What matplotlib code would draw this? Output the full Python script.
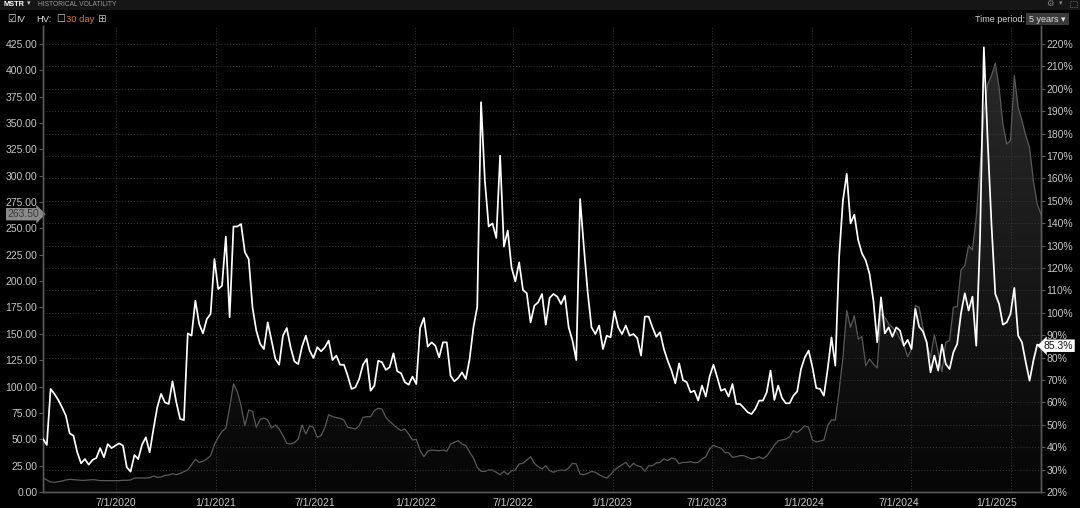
import numpy as np
import pandas as pd
import matplotlib
matplotlib.use("Agg")
import matplotlib.pyplot as plt
import matplotlib.dates as mdates
from matplotlib.patches import Polygon, Rectangle
from matplotlib.colors import LinearSegmentedColormap
from matplotlib.transforms import ScaledTranslation, blended_transform_factory

plt.rcParams['font.family'] = ['Liberation Sans', 'DejaVu Sans']

# weekly points, last one 2/25/2025
dates = pd.date_range(end="2025-02-25", periods=263, freq="7D")

# implied volatility (%), right axis
iv = [
    43.7, 41.0, 66.0, 63.8, 61.1, 57.8, 54.1, 46.2, 45.1, 37.7,
    32.8, 34.7, 32.2, 34.3, 35.2, 39.6, 35.5, 41.4, 39.6, 40.7,
    41.7, 40.7, 31.0, 29.1, 36.5, 34.7, 41.1, 44.4, 37.7, 48.1,
    57.8, 63.8, 60.0, 59.3, 69.4, 60.0, 52.6, 52.1, 90.8, 89.8,
    105.4, 95.0, 90.8, 97.2, 99.5, 124.0, 110.6, 112.1, 134.0, 98.0,
    138.5, 138.5, 139.6, 127.0,
    124.0, 102.4, 92.0, 86.1, 83.8, 95.7, 87.6, 79.4, 76.8, 89.8,
    93.2, 84.6, 78.3, 77.1, 84.9, 89.8, 83.1, 79.8, 84.6, 82.8,
    84.6, 87.6, 78.9, 80.9, 76.8, 76.8, 71.9, 66.0, 66.7, 70.4,
    76.8, 79.4, 65.2, 67.5, 78.6, 77.9, 74.5, 75.7, 81.9, 73.9,
    73.0, 69.0, 67.9, 71.5, 68.2, 93.2, 97.7, 84.9, 86.8, 85.3,
    80.1, 86.8,
    86.8, 71.9, 69.4, 70.9, 73.4, 70.4, 79.4, 93.5, 102.7, 194.0,
    159.0, 138.5, 139.9, 133.4, 170.1, 129.5, 136.7, 120.3, 114.0, 122.5,
    110.2, 108.7, 95.7, 103.2, 104.7, 108.4, 94.7, 106.6, 108.4, 107.2,
    103.9, 107.6, 93.5, 87.6, 78.9, 150.8, 129.2, 109.1, 93.5, 90.5,
    94.3, 83.8, 89.8, 89.0, 100.7, 93.5, 90.5, 94.3, 89.8, 90.5,
    88.7, 80.9,
    98.3, 98.3, 93.5, 89.3, 91.3, 83.8, 78.6, 74.2, 68.5, 77.4,
    70.0, 69.0, 64.5, 65.2, 60.8, 67.5, 62.6, 71.5, 76.8, 71.2,
    65.2, 66.0, 62.6, 68.2, 59.3, 59.3, 57.5, 55.6, 54.8, 57.1,
    60.8, 60.8, 64.5, 74.2, 61.1, 67.5, 62.0, 59.6, 59.6, 63.0,
    64.9, 74.9, 80.1, 83.1, 75.7, 66.4, 66.0, 63.0, 74.9, 89.0,
    76.4, 124.8, 150.1,
    162.0, 139.9, 143.8, 132.5, 126.5, 123.3, 117.3, 105.4, 86.8, 106.9,
    90.8, 93.5, 89.3, 93.5, 92.0, 85.3, 87.9, 83.8, 101.7, 93.8,
    91.7, 86.8, 73.4, 80.9, 74.2, 85.8, 77.1, 74.9, 82.4, 86.1,
    99.8, 108.7, 101.0, 107.2, 85.3, 133.7, 218.5, 176.8, 139.6, 108.4,
    103.9, 94.7, 95.7, 99.5, 111.1, 89.8, 86.8, 77.9, 69.7, 78.6,
    85.8, 85.3,
]

# stock price, left axis
price = [
    13.3, 11.4, 9.5, 9.2, 9.8, 10.4, 11.4, 12.0, 11.7, 11.4,
    11.1, 11.1, 11.4, 11.7, 11.4, 10.8, 10.8, 10.8, 10.8, 10.8,
    10.8, 11.1, 11.1, 11.4, 13.3, 13.3, 13.3, 13.3, 13.6, 15.2,
    13.9, 14.2, 15.8, 16.1, 17.4, 16.4, 17.7, 19.3, 20.9, 25.9,
    31.0, 28.1, 29.1, 31.3, 34.5, 44.9, 51.9, 57.5, 60.4, 80.3,
    102.4, 95.5, 81.9, 62.9,
    77.8, 76.5, 61.3, 68.9, 70.2, 68.3, 60.7, 63.6, 59.8, 53.4,
    46.2, 45.5, 46.8, 50.3, 63.6, 55.0, 62.9, 61.3, 51.9, 53.4,
    61.3, 73.4, 71.5, 70.5, 69.9, 68.3, 61.3, 60.7, 59.8, 62.9,
    70.8, 71.5, 71.5, 77.2, 79.4, 78.7, 70.8, 67.0, 63.9, 60.7,
    58.2, 59.8, 55.0, 49.3, 50.0, 39.2, 33.5, 38.6, 39.8, 39.5,
    39.2, 39.8,
    38.6, 45.5, 47.1, 48.7, 45.5, 44.0, 37.9, 32.3, 23.4, 19.6,
    19.6, 20.9, 20.9, 18.7, 16.4, 19.6, 16.4, 20.2, 20.9, 26.6,
    27.2, 30.4, 33.5, 27.2, 24.0, 21.8, 25.0, 20.2, 18.7, 20.2,
    20.9, 20.2, 22.8, 27.2, 26.6, 17.1, 16.4, 17.7, 19.6, 18.7,
    16.4, 14.5, 13.3, 16.4, 20.9, 23.4, 25.9, 28.1, 23.4, 27.2,
    25.0, 24.0,
    19.6, 25.0, 25.0, 27.5, 28.1, 31.6, 29.7, 32.3, 31.3, 26.9,
    28.1, 28.1, 28.8, 27.8, 28.1, 31.3, 33.5, 40.8, 44.3, 42.7,
    41.7, 37.6, 37.3, 32.9, 33.5, 34.5, 34.5, 32.9, 31.3, 31.9,
    33.5, 31.6, 34.1, 39.2, 44.6, 48.7, 49.3, 50.3, 52.5, 58.2,
    56.3, 59.4, 62.9, 61.3, 49.3, 47.4, 48.4, 49.3, 62.9, 68.3,
    68.3, 96.1, 127.7,
    172.0, 156.2, 167.3, 145.1, 147.4, 119.8, 126.2, 121.4, 117.6, 168.9,
    165.7, 159.4, 156.2, 152.4, 145.1, 138.8, 128.4, 135.7, 176.8, 175.2,
    156.2, 141.0, 127.7, 149.2, 132.5, 114.1, 142.0, 143.6, 175.2, 175.8,
    210.6, 214.7, 233.7, 229.6, 260.5, 308.0, 358.6, 387.0, 394.9, 406.6,
    383.9, 349.1, 330.1, 333.3, 394.9, 364.9, 352.2, 338.0, 327.0, 295.3,
    273.2, 263.5,
]

last_price = 263.50
last_iv = 85.3

tick_dates = ["2020-07-01", "2021-01-01", "2021-07-01", "2022-01-01", "2022-07-01",
              "2023-01-01", "2023-07-01", "2024-01-01", "2024-07-01", "2025-01-01"]
tick_labels = ["7/1/2020", "1/1/2021", "7/1/2021", "1/1/2022", "7/1/2022",
               "1/1/2023", "7/1/2023", "1/1/2024", "7/1/2024", "1/1/2025"]
# the source chart draws the later date labels a bit left of their grid lines
label_shift = [0, 0, 0, 1, 0, -2, -5, -8, -12, -14]

price_ticks = np.arange(0, 426, 25)
iv_ticks = np.arange(20, 221, 10)

W, H = 1080, 508
fig = plt.figure(figsize=(W / 100, H / 100), dpi=100, facecolor="black")
ax = fig.add_axes([43 / W, 16 / H, 998 / W, 466 / H])
ax.set_facecolor("black")
ax2 = ax.twinx()
ax2.patch.set_visible(False)

PMAX = 442
ax.set_ylim(0, PMAX)
ax2.set_ylim(20, 20 + PMAX / 2.125)

# price area with a dark vertical gradient
xn = mdates.date2num(dates)
ax.plot(dates, price, color="#5a5a5a", lw=0.9, zorder=3)
verts = [(xn[0], 0)] + list(zip(xn, price)) + [(xn[-1], 0)]
poly = Polygon(verts, closed=True, facecolor="none", edgecolor="none")
ax.add_patch(poly)
cmap = LinearSegmentedColormap.from_list("shade", ["#060606", "#2c2c2c"])
grad = np.linspace(0, 1, 256).reshape(-1, 1)
im = ax.imshow(grad, extent=[xn[0], xn[-1], 0, PMAX], origin="lower",
               aspect="auto", cmap=cmap, zorder=1)
im.set_clip_path(poly)
ax.set_xlim(dates[0], dates[-1])
ax.set_ylim(0, PMAX)

# IV line
ax2.plot(dates, iv, color="white", lw=1.25, zorder=5)

# grids
ax.set_xticks(pd.to_datetime(tick_dates))
ax.set_xticklabels(tick_labels)
ax.grid(axis="x", color="#3a3a3a", ls=(0, (1, 2)), lw=0.7)
ax2.grid(axis="y", color="#3a3a3a", ls=(0, (1, 2)), lw=0.7)

ax.set_yticks(price_ticks)
ax.set_yticklabels([f"{v:.2f}" for v in price_ticks])
ax2.set_yticks(iv_ticks)
ax2.set_yticklabels([f"{v}%" for v in iv_ticks])

for a in (ax, ax2):
    a.tick_params(axis="y", colors="#c8c8c8", labelsize=7.5, length=3,
                  width=0.8, pad=1)
    a.tick_params(axis="y", color="#5a5a5a")
    for s in a.spines.values():
        s.set_color("#5a5a5a")
        s.set_linewidth(1.0)
    a.spines["top"].set_visible(False)
ax.tick_params(axis="x", colors="#c8c8c8", labelsize=7.5, length=0, pad=4)

for lab, sh in zip(ax.get_xticklabels(), label_shift):
    lab.set_transform(lab.get_transform() + ScaledTranslation(sh / 100, 0, fig.dpi_scale_trans))

# current value flags
tr_l = blended_transform_factory(ax.transAxes, ax.transData)
ax.text(-0.004, last_price, f"{last_price:.2f}", transform=tr_l, ha="right", va="center",
        fontsize=7.5, color="#3a3a3a", clip_on=False, zorder=10,
        bbox=dict(boxstyle="rarrow,pad=0.12", fc="#8a8a8a", ec="none"))
tr_r = blended_transform_factory(ax2.transAxes, ax2.transData)
ax2.text(1.003, last_iv, f"{last_iv}%", transform=tr_r, ha="left", va="center",
         fontsize=7.5, color="#111111", clip_on=False, zorder=10,
         bbox=dict(boxstyle="larrow,pad=0.12", fc="white", ec="none"))

# header
def ftext(x, y, s, **kw):
    fig.text(x / W, 1 - y / H, s, va="center", **kw)

fig.patches.append(Rectangle((0, 1 - 9.5 / H), 1, 9.5 / H, transform=fig.transFigure,
                             facecolor="#161616", edgecolor="none", zorder=0))
ftext(4, 4, "MSTR", fontsize=5.3, color="white", fontweight="bold")
ftext(27, 4, "▾", fontsize=5, color="#d0d0d0")
ftext(38, 4, "HISTORICAL VOLATILITY", fontsize=4.8, color="#9a9a9a")
ftext(1046, 4, "⚙", fontsize=6, color="#8a8a8a")
ftext(1059, 4, "▾", fontsize=5, color="#8a8a8a")
fig.patches.append(Rectangle((1070 / W, 1 - 7 / H), 7 / W, 6 / H, transform=fig.transFigure,
                             facecolor="none", edgecolor="#6a6a6a", lw=0.6, ls=(0, (1, 1))))

ftext(7, 19, "☑", fontsize=7, color="#d8d8d8")
ftext(16, 19, "IV", fontsize=6.8, color="#d8d8d8")
ftext(36, 19, "HV:", fontsize=6.8, color="#d8d8d8")
ftext(56, 19, "☐", fontsize=7, color="#d8d8d8")
ftext(66, 19, "30 day", fontsize=6.8, color="#e07c10")
ftext(97, 19, "⊞", fontsize=7.5, color="#b8b8b8")

ftext(1025, 19, "Time period:", fontsize=6.5, color="#d8d8d8", ha="right")
fig.patches.append(Rectangle((1026 / W, 1 - 25 / H), 43 / W, 12 / H, transform=fig.transFigure,
                             facecolor="#3a3a3a", edgecolor="none"))
ftext(1029, 19, "5 years ▾", fontsize=6.5, color="#e0e0e0")

fig.savefig("out.png", dpi=100, facecolor="black")
